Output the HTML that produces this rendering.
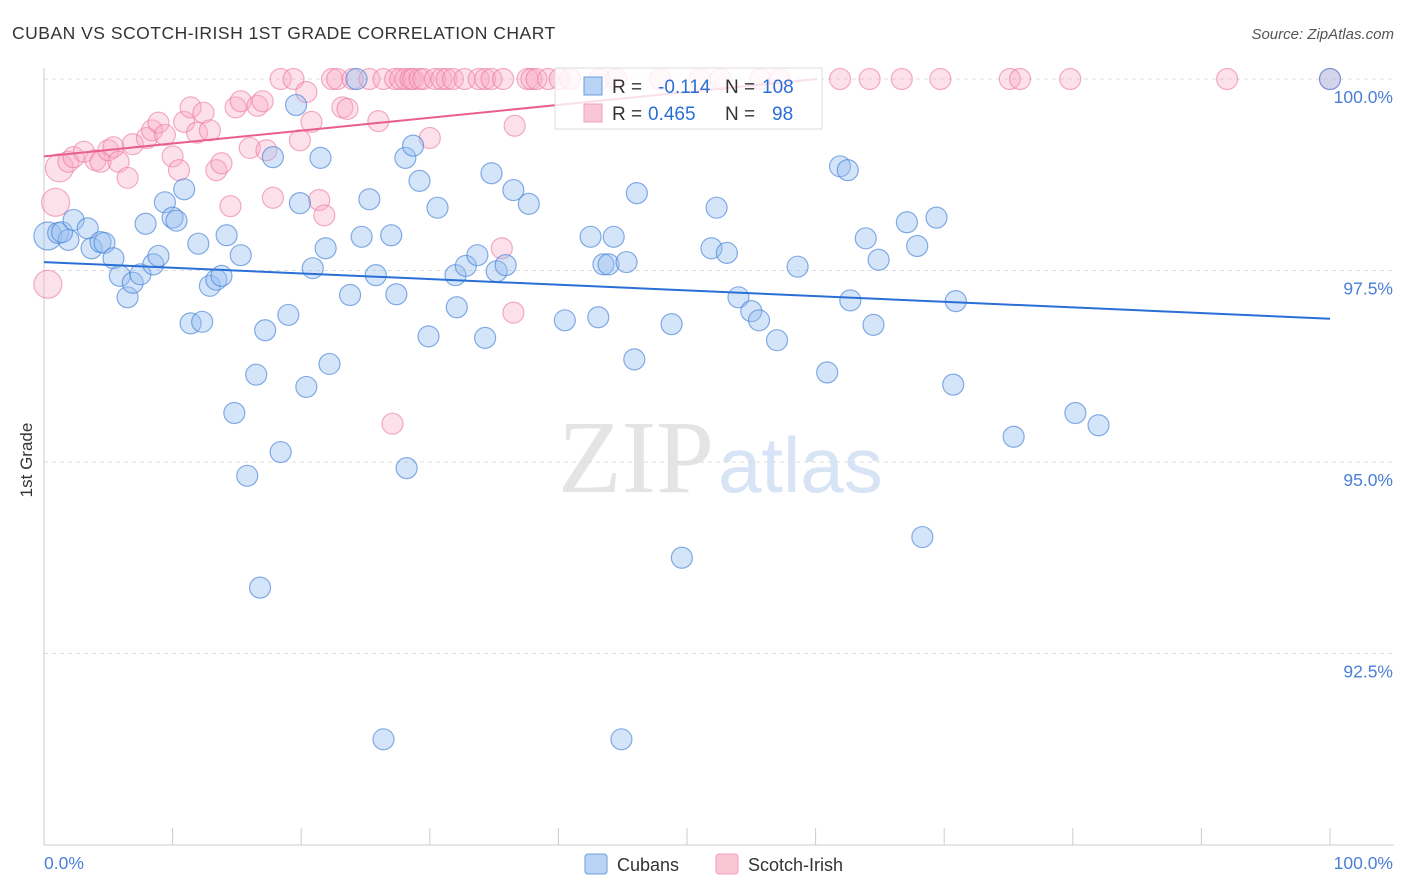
<!DOCTYPE html>
<html><head><meta charset="utf-8"><style>
body{margin:0;background:#fff;font-family:"Liberation Sans",sans-serif}
svg{display:block}
</style></head><body>
<svg id="chart" width="1406" height="892" xmlns="http://www.w3.org/2000/svg">
<text x="12" y="39" font-size="17.5" fill="#333" letter-spacing="0.5">CUBAN VS SCOTCH-IRISH 1ST GRADE CORRELATION CHART</text>
<text x="1394" y="39" font-size="15" fill="#555" font-style="italic" text-anchor="end">Source: ZipAtlas.com</text>
<text x="32" y="460" font-size="17" fill="#333" transform="rotate(-90 32 460)" text-anchor="middle">1st Grade</text>
<g><text x="714" y="492" font-size="104" fill="#e4e4e4" font-family="Liberation Serif,serif" text-anchor="end">ZIP</text><text x="718" y="492" font-size="78" fill="#d6e4f6">atlas</text></g>
<g id="grid"></g><g id="axes"></g><g id="pts"></g><g id="trend"></g><g id="legend"></g><g id="bottom-legend"></g>
</svg>
<script>
const yTicks=[100,97.5,95,92.5];
const yTickLabels=["100.0%","97.5%","95.0%","92.5%"];
const blueX=[0.3,1.1,1.9,1.4,2.3,3.4,3.7,4.4,4.7,5.4,5.9,6.5,6.9,7.5,7.9,8.5,8.9,9.4,10.0,10.3,10.9,11.4,12.0,12.3,12.9,13.4,13.8,14.2,14.8,15.3,15.8,16.5,16.8,17.2,17.8,18.4,19.0,19.6,19.9,20.4,20.9,21.5,21.9,22.2,23.8,24.3,24.7,25.3,25.8,26.4,27.0,27.4,28.1,28.2,28.7,29.2,29.9,30.6,32.0,32.1,32.8,33.7,34.3,34.8,35.2,35.9,36.5,37.7,40.5,42.5,43.1,43.5,43.9,44.3,44.9,45.3,45.9,46.1,48.8,49.6,51.9,52.3,53.1,54.0,55.0,55.6,57.0,58.6,60.9,61.9,62.5,62.7,63.9,64.5,64.9,67.1,67.9,68.3,69.4,70.7,70.9,75.4,80.2,82.0,100];
const blueY=[97.95,97.99,97.90,98.00,98.16,98.05,97.79,97.87,97.86,97.66,97.43,97.15,97.34,97.45,98.11,97.58,97.69,98.39,98.19,98.15,98.56,96.81,97.85,96.83,97.30,97.38,97.43,97.96,95.64,97.70,94.82,96.14,93.36,96.72,98.98,95.13,96.92,99.66,98.38,95.98,97.53,98.97,97.79,96.28,97.18,100,97.94,98.43,97.44,91.38,97.96,97.19,98.97,94.92,99.13,98.67,96.64,98.32,97.44,97.02,97.56,97.70,96.62,98.77,97.49,97.57,98.55,98.37,96.85,97.94,96.89,97.58,97.58,97.94,91.38,97.61,96.34,98.51,96.80,93.75,97.79,98.32,97.73,97.15,96.97,96.85,96.59,97.55,96.17,98.86,98.81,97.11,97.92,96.79,97.64,98.13,97.82,94.02,98.19,96.01,97.10,95.33,95.64,95.48,100];
const pinkX=[1.2,0.9,0.3,1.9,2.3,3.1,4.0,4.4,5.0,5.4,5.8,6.5,6.9,8.0,8.4,8.9,9.4,10.0,10.5,10.9,11.4,11.9,12.4,12.9,13.4,13.8,14.5,14.9,15.3,16.0,16.6,17.0,17.3,17.8,18.4,19.4,19.9,20.4,20.8,21.4,21.8,22.4,22.8,23.2,23.6,24.0,25.3,26.0,26.4,27.1,27.3,27.7,28.1,28.5,28.7,29.2,29.5,30.0,30.4,30.9,31.3,31.8,32.7,33.8,34.3,34.8,35.6,35.7,36.6,36.5,37.6,37.9,38.3,39.2,40.1,40.9,43.2,44.5,47.9,51.0,52.6,55.7,57.2,61.9,64.2,66.7,69.7,75.1,75.9,79.8,92.0,100];
const pinkY=[98.84,98.39,97.32,98.92,98.98,99.05,98.94,98.92,99.07,99.11,98.92,98.71,99.15,99.23,99.33,99.43,99.27,98.99,98.81,99.44,99.63,99.30,99.56,99.33,98.81,98.90,98.34,99.63,99.71,99.10,99.65,99.71,99.07,98.45,100,100,99.20,99.83,99.44,98.42,98.22,100,100,99.63,99.61,100,100,99.45,100,95.50,100,100,100,100,100,100,100,99.23,100,100,100,100,100,100,100,100,97.79,100,99.39,96.95,100,100,100,100,100,100,100,100,100,100,100,100,100,100,100,100,100,100,100,100,100,100];
const blueTrend=[97.61,-0.0074];
const pinkTrend=[98.99,0.0168];
const X0=44,X1=1330,Y100=79,PX_PER=76.6;
const xs=v=>X0+(X1-X0)*v/100;
const ys=v=>Y100+(100-v)*PX_PER;
const NS="http://www.w3.org/2000/svg";
function mk(tag,attrs,parent){const e=document.createElementNS(NS,tag);for(const k in attrs)e.setAttribute(k,attrs[k]);parent.appendChild(e);return e;}
const grid=document.getElementById('grid');
yTicks.forEach((t,i)=>{
 const l=mk('line',{x1:X0,x2:1394,y1:ys(t),y2:ys(t),stroke:'#ddd','stroke-dasharray':'4,4'},grid);
 
 
 const tx=mk('text',{x:1393,y:ys(t)+24,'font-size':17.5,fill:'#4a7fd6','text-anchor':'end'},grid);
 tx.textContent=yTickLabels[i];
 
 
});
const axes=document.getElementById('axes');
let a=mk('line',{x1:X0,x2:X0,y1:68,y2:845,stroke:'#ccc'},axes);


a=mk('line',{x1:X0,x2:1394,y1:845,y2:845,stroke:'#ccc'},axes);


for(let i=0;i<=10;i++){const x=X0+i*(X1-X0)/10;const tk=mk('line',{x1:x,x2:x,y1:828,y2:845,stroke:'#ccc'},axes);
 
 }
let t=mk('text',{x:44,y:869,'font-size':17.5,fill:'#4a7fd6'},axes);t.textContent='0.0%';


t=mk('text',{x:1393,y:869,'font-size':17.5,fill:'#4a7fd6','text-anchor':'end'},axes);t.textContent='100.0%';


const pts=document.getElementById('pts');
pinkX.forEach((x,i)=>{const r=i<3?14:10.5;
 const c=mk('circle',{cx:xs(x),cy:ys(pinkY[i]),r:r,fill:'rgba(248,170,195,0.35)',stroke:'rgba(235,120,160,0.6)','stroke-width':1.2},pts);
 
 });
blueX.forEach((x,i)=>{const r=i==0?14:10.5;
 const c=mk('circle',{cx:xs(x),cy:ys(blueY[i]),r:r,fill:'rgba(150,190,240,0.4)',stroke:'rgba(70,130,215,0.65)','stroke-width':1.2},pts);
 
 });
const tr=document.getElementById('trend');
let l=mk('line',{x1:xs(0),y1:ys(blueTrend[0]),x2:xs(100),y2:ys(blueTrend[0]+blueTrend[1]*100),stroke:'#2a6fd6','stroke-width':2},tr);


const pEnd=Math.min(100,(100-pinkTrend[0])/pinkTrend[1]);
l=mk('line',{x1:xs(0),y1:ys(pinkTrend[0]),x2:xs(pEnd),y2:ys(pinkTrend[0]+pinkTrend[1]*pEnd),stroke:'#e8608a','stroke-width':2},tr);


</script>
<svg style="position:absolute;left:0;top:0" width="1406" height="892">
<g>
<rect x="555" y="68" width="267" height="61" fill="rgba(255,255,255,0.8)" stroke="#ddd"/>
<rect x="584" y="77" width="18" height="18" fill="#b9d3f5" stroke="#6a9de0"/>
<rect x="584" y="104" width="18" height="18" fill="#f9c6d6" stroke="#f0a0b8"/>
<text x="612" y="93" font-size="19" fill="#333">R = </text><text x="658" y="93" font-size="19" fill="#2a6fd6">-0.114</text>
<text x="725" y="93" font-size="19" fill="#333">N =</text><text x="762" y="93" font-size="19" fill="#2a6fd6">108</text>
<text x="612" y="120" font-size="19" fill="#333">R = </text><text x="648" y="120" font-size="19" fill="#2a6fd6">0.465</text>
<text x="725" y="120" font-size="19" fill="#333">N =</text><text x="772" y="120" font-size="19" fill="#2a6fd6">98</text>
</g>
<g>
<rect x="585" y="854" width="22" height="20" rx="3" fill="#b9d3f5" stroke="#6a9de0"/>
<text x="617" y="871" font-size="18" fill="#333">Cubans</text>
<rect x="716" y="854" width="22" height="20" rx="3" fill="#f9c6d6" stroke="#f0a0b8"/>
<text x="748" y="871" font-size="18" fill="#333">Scotch-Irish</text>
</g>
</svg>
</body></html>
